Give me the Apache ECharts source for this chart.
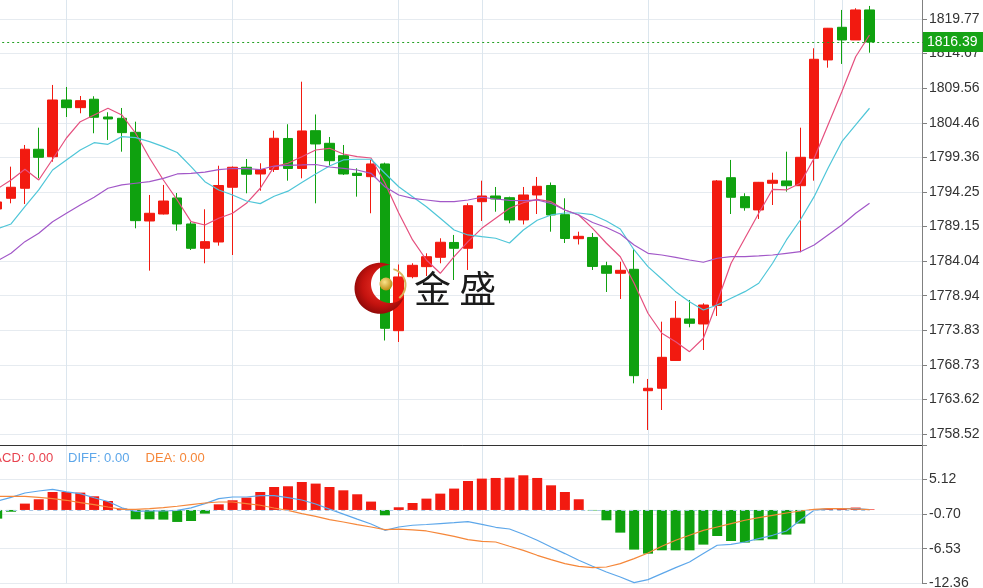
<!DOCTYPE html>
<html>
<head>
<meta charset="utf-8">
<script src="https://cdn.jsdelivr.net/npm/echarts@6/dist/echarts.min.js"></script>
<style>
html,body{margin:0;padding:0;background:#fff;}
#chart{width:983px;height:588px;}
</style>
</head>
<body>
<div id="chart"></div>
<script>
// ---------------- data ----------------
const categories = Array.from({length: 68}, (_, i) => 'K' + (i + 1));
const gridLineIndex = [5, 17, 29, 35, 47, 59, 61];

// candles: [open, close, low, high]
const candles = [
  [1791.73,1792.77,1791.29,1793.36],[1793.31,1794.94,1792.57,1797.98],[1794.79,1800.55,1792.47,1801.18],
  [1800.55,1799.36,1796.26,1803.73],[1799.45,1807.82,1798.71,1810.04],[1807.82,1806.69,1805.31,1809.74],
  [1806.69,1807.72,1805.86,1808.41],[1807.93,1805.27,1802.91,1808.37],[1805.31,1805.02,1801.92,1806.01],
  [1805.12,1803.00,1800.19,1806.64],[1803.05,1790.01,1788.88,1804.62],[1789.96,1791.10,1782.63,1793.80],
  [1790.99,1792.91,1790.92,1795.28],[1793.36,1789.52,1788.53,1794.09],[1789.52,1785.93,1785.68,1789.86],
  [1785.93,1786.91,1783.72,1791.69],[1786.86,1795.20,1786.32,1798.12],[1794.94,1797.89,1784.94,1798.01],
  [1797.89,1796.86,1794.05,1799.11],[1796.90,1797.56,1794.43,1798.48],[1797.56,1802.17,1797.19,1803.29],
  [1802.14,1797.71,1795.91,1804.24],[1797.71,1803.25,1796.26,1810.52],[1803.29,1801.33,1792.57,1805.68],
  [1801.43,1798.86,1798.12,1802.36],[1799.60,1796.90,1796.75,1801.18],[1797.00,1796.68,1793.55,1797.74],
  [1796.50,1798.38,1791.10,1798.97],[1798.38,1774.12,1772.32,1798.57],[1773.77,1781.70,1772.10,1783.54],
  [1781.74,1783.42,1781.50,1783.72],[1783.22,1784.69,1781.84,1785.19],[1784.60,1786.82,1783.72,1787.41],
  [1786.79,1785.93,1781.25,1787.90],[1785.93,1792.22,1782.73,1792.57],[1792.81,1793.65,1789.96,1795.91],
  [1793.65,1793.21,1791.33,1794.98],[1793.40,1790.11,1789.62,1793.55],[1790.11,1793.80,1789.45,1794.98],
  [1793.80,1795.08,1790.99,1796.46],[1795.20,1790.85,1788.38,1795.64],[1790.89,1787.38,1786.71,1793.31],
  [1787.35,1787.70,1786.49,1788.38],[1787.53,1783.25,1782.73,1788.19],[1783.35,1782.24,1779.48,1783.95],
  [1782.24,1782.68,1778.45,1783.95],[1782.83,1767.13,1766.00,1785.83],[1764.91,1765.27,1759.11,1766.64],
  [1765.27,1769.84,1762.06,1775.10],[1769.37,1775.60,1769.30,1778.15],[1775.50,1774.86,1774.27,1778.30],
  [1774.76,1777.56,1770.92,1777.81],[1777.49,1795.87,1775.94,1796.01],[1796.35,1793.46,1790.99,1798.97],
  [1793.55,1791.92,1791.48,1794.05],[1791.59,1795.67,1790.26,1795.72],[1795.53,1795.97,1792.32,1797.09],
  [1795.87,1795.17,1794.29,1800.19],[1795.17,1799.36,1785.34,1803.73],[1799.22,1813.83,1795.91,1815.45],
  [1813.73,1818.41,1812.59,1818.45],[1818.55,1816.68,1813.14,1821.11],[1816.68,1821.11,1816.68,1821.36],
  [1821.11,1816.39,1814.80,1821.70]
];

const ma5 = [1794.69,1796.01,1797.59,1796.01,1799.07,1802.21,1804.62,1805.61,1806.60,1805.61,
  1802.91,1799.26,1796.01,1793.06,1789.86,1789.37,1790.36,1791.10,1792.57,1794.79,
  1797.98,1798.48,1799.45,1800.44,1800.69,1799.85,1799.45,1799.26,1795.57,1791.14,
  1787.16,1784.20,1782.24,1784.69,1786.91,1788.88,1790.36,1791.84,1792.66,1793.16,
  1792.81,1791.59,1790.85,1788.88,1786.67,1784.69,1780.77,1776.34,1773.39,1772.15,
  1770.67,1772.65,1778.05,1783.72,1787.41,1791.10,1794.64,1794.54,1795.53,1799.22,
  1804.13,1809.05,1814.21,1817.42];
const ma10 = [1788.78,1789.52,1792.07,1794.54,1797.49,1798.97,1800.44,1801.52,1801.28,1802.41,
  1802.26,1801.67,1800.93,1800.07,1797.98,1795.76,1794.54,1793.80,1792.91,1792.52,
  1793.61,1794.36,1795.64,1796.90,1798.08,1798.97,1799.07,1799.07,1797.00,1795.02,
  1793.55,1792.07,1790.36,1788.63,1787.90,1787.64,1787.41,1786.71,1788.63,1790.07,
  1790.85,1791.14,1791.14,1790.89,1789.96,1788.78,1785.68,1783.22,1781.40,1779.53,
  1778.05,1776.82,1777.56,1778.55,1779.53,1780.77,1783.72,1787.16,1790.11,1793.55,
  1797.74,1801.67,1804.13,1806.60];
const ma20 = [1784.06,1785.19,1786.91,1788.15,1789.86,1791.10,1792.32,1793.46,1794.79,1795.28,
  1795.53,1795.76,1796.26,1796.90,1797.00,1797.17,1797.53,1797.71,1797.68,1797.56,
  1798.08,1798.18,1798.23,1798.30,1797.93,1797.74,1797.49,1797.00,1795.02,1793.80,
  1793.31,1793.06,1792.81,1792.81,1793.06,1793.46,1793.21,1792.99,1792.96,1793.06,
  1792.57,1791.59,1790.85,1789.74,1789.00,1788.04,1786.42,1785.19,1784.94,1784.60,
  1784.20,1783.87,1784.46,1784.69,1784.69,1784.80,1784.94,1785.19,1785.43,1786.42,
  1787.90,1789.37,1791.10,1792.57];

const macdHist = [-1.46,-0.30,1.07,1.80,3.03,3.03,2.92,2.30,1.51,0.23,
  -1.57,-1.57,-1.63,-2.02,-1.86,-0.62,0.95,1.63,2.08,3.03,
  3.87,3.99,4.71,4.44,3.87,3.31,2.64,1.41,-0.90,0.45,
  1.17,1.91,2.75,3.60,4.88,5.28,5.39,5.45,5.84,5.39,
  4.15,3.03,1.80,-0.08,-1.74,-3.82,-6.68,-7.36,-6.80,-6.80,
  -6.80,-5.84,-4.39,-5.23,-5.50,-5.11,-4.94,-4.15,-2.30,0.05,
  0.15,0.15,0.40,0.10];
const diff = [1.46,2.13,2.86,3.19,3.48,3.06,2.76,2.05,1.43,0.36,
  -0.26,-0.14,-0.18,-0.06,0.36,1.07,1.91,2.18,2.18,2.40,
  2.40,2.08,1.68,1.00,0.14,-0.70,-1.54,-2.37,-3.43,-2.87,
  -2.58,-2.45,-2.30,-2.15,-1.98,-2.42,-2.92,-3.21,-4.10,-5.11,
  -6.24,-7.35,-8.48,-9.49,-10.45,-11.29,-12.24,-11.73,-10.72,-9.71,
  -8.77,-7.35,-5.95,-5.79,-5.40,-4.83,-4.27,-3.54,-1.74,-0.06,
  0.23,0.23,0.23,0.06];
const dea = [2.30,2.30,2.30,2.13,1.91,1.63,1.24,0.90,0.50,0.11,
  0.11,0.23,0.40,0.62,0.90,1.17,1.34,1.34,1.07,0.79,
  0.33,-0.06,-0.61,-1.07,-1.62,-2.03,-2.47,-2.87,-3.31,-3.22,
  -3.34,-3.54,-3.98,-4.44,-4.99,-5.28,-5.40,-6.12,-6.80,-7.64,
  -8.36,-9.04,-9.49,-9.71,-9.61,-9.04,-8.19,-7.25,-6.12,-5.11,
  -4.27,-3.43,-2.87,-2.30,-1.74,-1.29,-0.90,-0.51,-0.18,0.11,
  0.23,0.23,0.16,0.06];

const lastPrice = 1816.39;
const priceTicks = ['1758.52','1763.62','1768.73','1773.83','1778.94','1784.04','1789.15',
  '1794.25','1799.36','1804.46','1809.56','1814.67','1819.77'];
const macdTicks = ['-12.36','-6.53','-0.70','5.12'];
const priceMin = 1758.5195, priceStep = 5.1045;
const macdMin = -12.356, macdStep = 5.826;

// ---------------- style ----------------
const RED = '#f21a10', GREEN = '#0fa10f';
const FONT = '"Liberation Sans", Arial, sans-serif';
const vGrid = { show: true, interval: (idx) => gridLineIndex.indexOf(idx) >= 0,
  lineStyle: { color: '#dce6ee', width: 1 } };

// crescent logo geometry (decoration)
function crescent(cx, cy, R, ix, iy, r, n) {
  const dx = ix - cx, dy = iy - cy, d = Math.hypot(dx, dy);
  const a = (R * R - r * r + d * d) / (2 * d);
  const h = Math.sqrt(R * R - a * a);
  const base = Math.atan2(dy, dx), phi = Math.atan2(h, a);
  const pts = [];
  for (let k = 0; k <= n; k++) {
    const t = base + phi + (2 * Math.PI - 2 * phi) * k / n;
    pts.push([cx + R * Math.cos(t), cy + R * Math.sin(t)]);
  }
  const p1 = [cx + R * Math.cos(base + phi), cy + R * Math.sin(base + phi)];
  const p2 = [cx + R * Math.cos(base - phi), cy + R * Math.sin(base - phi)];
  const a1 = Math.atan2(p1[1] - iy, p1[0] - ix);
  let a2 = Math.atan2(p2[1] - iy, p2[0] - ix);
  let a1b = a1; while (a1b > a2) a1b -= 2 * Math.PI;
  for (let k = 0; k <= n; k++) {
    const t = a2 + (a1b - a2) * k / n;
    pts.push([ix + r * Math.cos(t), iy + r * Math.sin(t)]);
  }
  return pts;
}

const chart = echarts.init(document.getElementById('chart'), null, { renderer: 'canvas' });
const option = {
  animation: false,
  backgroundColor: '#ffffff',
  grid: [
    { left: -2.8, right: 58.1, top: -12.12, bottom: 154, containLabel: false, outerBoundsMode: 'none' },
    { left: -2.8, right: 58.1, top: 434, bottom: 4.7, containLabel: false, outerBoundsMode: 'none' }
  ],
  xAxis: [
    { type: 'category', gridIndex: 0, data: categories, boundaryGap: false, offset: 11,
      axisLine: { show: true, onZero: false, lineStyle: { color: '#333', width: 1 } },
      axisTick: { show: false }, axisLabel: { show: false }, splitLine: vGrid },
    { type: 'category', gridIndex: 1, data: categories, boundaryGap: false,
      axisLine: { show: false, onZero: false }, axisTick: { show: false },
      axisLabel: { show: false }, splitLine: vGrid }
  ],
  yAxis: [
    { type: 'value', gridIndex: 0, position: 'right', offset: -2.9,
      min: priceMin, max: priceMin + 12.9 * priceStep, interval: priceStep,
      axisLine: { show: true, lineStyle: { color: '#808080' } },
      axisTick: { show: true, length: 5, lineStyle: { color: '#808080' } },
      axisLabel: { color: '#333', fontSize: 14, fontFamily: FONT, margin: 7,
        formatter: (v, i) => priceTicks[i] || '' },
      splitLine: { show: true, lineStyle: { color: '#e6ebf0' } } },
    { type: 'value', gridIndex: 1, position: 'right', offset: -2.9,
      min: macdMin, max: macdMin + (149.3 / 34.583) * macdStep, interval: macdStep,
      axisLine: { show: true, lineStyle: { color: '#808080' } },
      axisTick: { show: true, length: 5, lineStyle: { color: '#808080' } },
      axisLabel: { color: '#333', fontSize: 14, fontFamily: FONT, margin: 7,
        formatter: (v, i) => macdTicks[i] || '' },
      splitLine: { show: true, lineStyle: { color: '#e6ebf0' } } }
  ],
  series: [
    { name: 'K', type: 'candlestick', xAxisIndex: 0, yAxisIndex: 0, data: candles, barWidth: 10,
      itemStyle: { color: RED, color0: GREEN, borderColor: RED, borderColor0: GREEN, borderWidth: 1 },
      markLine: { silent: true, symbol: ['none', 'none'], animation: false,
        data: [{ yAxis: lastPrice }],
        lineStyle: { color: '#22a022', type: [2, 3], width: 1 },
        label: { show: true, position: 'end', distance: -2, formatter: lastPrice.toFixed(2),
          color: '#fff', backgroundColor: '#16a316', padding: [3, 6, 3, 4],
          fontSize: 14, fontFamily: FONT } } },
    { name: 'MA5', type: 'line', xAxisIndex: 0, yAxisIndex: 0, data: ma5, symbol: 'none',
      lineStyle: { color: '#e5507f', width: 1.2 }, z: 3 },
    { name: 'MA10', type: 'line', xAxisIndex: 0, yAxisIndex: 0, data: ma10, symbol: 'none',
      lineStyle: { color: '#4fc6d8', width: 1.2 }, z: 3 },
    { name: 'MA20', type: 'line', xAxisIndex: 0, yAxisIndex: 0, data: ma20, symbol: 'none',
      lineStyle: { color: '#a258c8', width: 1.2 }, z: 3 },
    { name: 'MACD', type: 'bar', xAxisIndex: 1, yAxisIndex: 1, data: macdHist, barWidth: 10,
      itemStyle: { color: (p) => (p.value >= 0 ? RED : GREEN) },
      markLine: { silent: true, symbol: ['none', 'none'], animation: false,
        label: { show: false },
        lineStyle: { color: '#a9c9e6', type: [4, 4], width: 1 },
        data: [[{ coord: [categories[0], 0] }, { coord: [categories[candles.length - 1], 0] }]] } },
    { name: 'DIFF', type: 'line', xAxisIndex: 1, yAxisIndex: 1, data: diff, symbol: 'none',
      lineStyle: { color: '#5da7ea', width: 1.2 }, z: 3 },
    { name: 'DEA', type: 'line', xAxisIndex: 1, yAxisIndex: 1, data: dea, symbol: 'none',
      lineStyle: { color: '#f5873a', width: 1.2 }, z: 3 }
  ],
  graphic: [
    { type: 'text', x: -17.5, y: 458, z: 50,
      style: { text: 'MACD: 0.00', fill: '#e8434f', font: '13px ' + FONT, verticalAlign: 'middle', textVerticalAlign: 'middle' } },
    { type: 'text', x: 68, y: 458, z: 50,
      style: { text: 'DIFF: 0.00', fill: '#5da7ea', font: '13px ' + FONT, verticalAlign: 'middle', textVerticalAlign: 'middle' } },
    { type: 'text', x: 145.5, y: 458, z: 50,
      style: { text: 'DEA: 0.00', fill: '#f5873a', font: '13px ' + FONT, verticalAlign: 'middle', textVerticalAlign: 'middle' } },
    { type: 'polygon', z: 60,
      shape: { points: crescent(380, 288.3, 25.5, 390, 284, 19, 40) },
      style: { fill: { type: 'radial', x: 0.55, y: 0.45, r: 0.65,
        colorStops: [{ offset: 0, color: '#f2362a' }, { offset: 0.6, color: '#c4130f' }, { offset: 1, color: '#7c0606' }] } } },
    { type: 'arc', z: 61, shape: { cx: 389, cy: 285, r: 16.5, startAngle: -1.3, endAngle: 0.9 },
      style: { stroke: '#d8b65c', lineWidth: 2, fill: null } },
    { type: 'circle', z: 62, shape: { cx: 386, cy: 284, r: 6.5 },
      style: { fill: { type: 'radial', x: 0.4, y: 0.35, r: 0.7,
        colorStops: [{ offset: 0, color: '#fbe48a' }, { offset: 1, color: '#b8860b' }] } } },
    { type: 'text', x: 414, y: 289, z: 60,
      style: { text: '金 盛', fill: '#1b1b1b', font: '37px "Noto Sans CJK SC", sans-serif',
        verticalAlign: 'middle', textVerticalAlign: 'middle' } }
  ]
};
chart.setOption(option);
</script>
</body>
</html>
